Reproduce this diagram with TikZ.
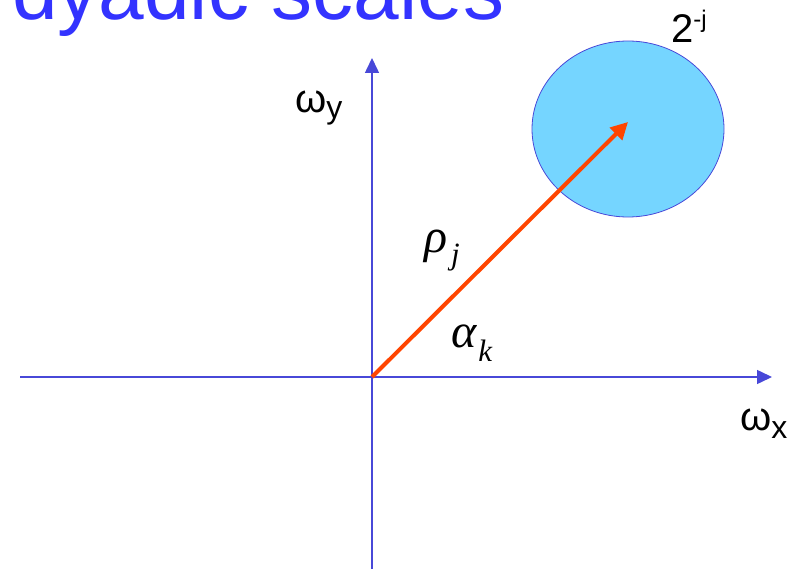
\documentclass[tikz,border=0pt]{standalone}
\usepackage{fontspec}
\setmainfont{Liberation Sans}
\newfontfamily\greekit{Liberation Serif}
\usetikzlibrary{arrows.meta, shapes.geometric}
\definecolor{caxis}{HTML}{4848D8}
\definecolor{ctitle}{HTML}{3333FF}
\definecolor{cdisk}{HTML}{75D5FF}
\definecolor{cray}{HTML}{FF4500}
\tikzset{
  every picture/.style={x=1pt, y=-1pt},
  axis/.style={-{Triangle[length=15pt, width=14pt]}, draw=caxis, line width=1.5pt},
  ray/.style={-{Triangle[length=17pt, width=17pt]}, draw=cray, line width=4pt},
  disk/.style={ellipse, draw=caxis, fill=cdisk, line width=0.8pt, inner sep=0pt},
  lab/.style={font=\fontsize{40}{40}\selectfont, inner sep=0pt, anchor=base west},
  mlab/.style={font=\greekit\itshape\fontsize{48}{48}\selectfont, inner sep=0pt, anchor=base west},
  title/.style={font=\fontsize{82}{90}\selectfont, text=ctitle, inner sep=0pt, anchor=base west},
}
\newcommand{\lowsub}[2]{\raisebox{#1}{\fontsize{32}{32}\selectfont #2}}
\newcommand{\mathsub}[2]{\raisebox{#1}{\fontsize{31}{31}\selectfont #2}}

\begin{document}
\begin{tikzpicture}
  \useasboundingbox (0,0) rectangle (791,569);
  \node[title] (head) at (12,20) {dyadic scales};
  % frequency axes
  \coordinate (o) at (372,377);
  \coordinate (xl) at (20,377);
  \coordinate (xr) at (772,377);
  \coordinate (yb) at (372,569);
  \coordinate (yt) at (372,58);
  \draw[axis] (xl) -- (xr);
  \draw[axis] (yb) -- (yt);
  \node[lab] (wy) at (295,113) {ω\lowsub{-6pt}{y}};
  \node[lab] (wx) at (740,430) {ω\lowsub{-8pt}{x}};
  % support of the scale j tile
  \node[disk, minimum width=192, minimum height=176] (blob) at (628,129) {};
  \coordinate (tip) at (628,122);
  \node[lab] (scale) at (671,43) {2\raisebox{15pt}{\fontsize{24}{24}\selectfont -j}};
  \draw[ray] (o) -- (tip);
  \node[mlab] (rho) at (424,252) {ρ\kern4pt\mathsub{-12pt}{j}};
  \node[mlab] (alpha) at (451,347) {α\kern2pt\mathsub{-14pt}{k}};
\end{tikzpicture}
\end{document}
